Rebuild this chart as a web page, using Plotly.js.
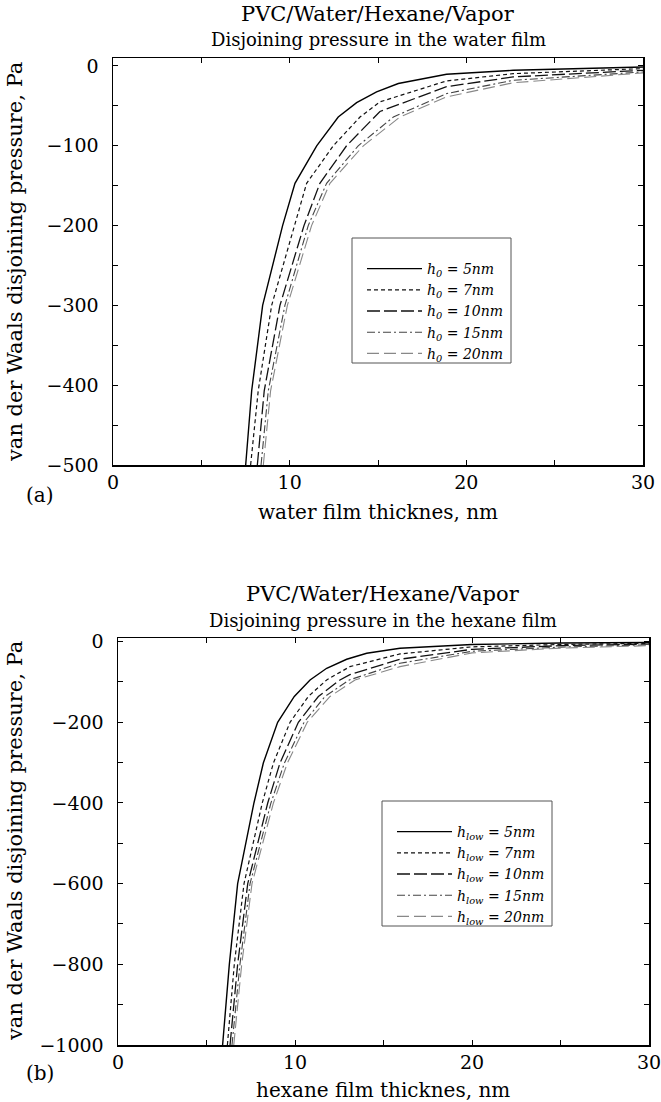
<!DOCTYPE html>
<html><head><meta charset="utf-8">
<script src="https://cdn.plot.ly/plotly-3.0.1.min.js"></script>
<style>body{margin:0;background:#fff}</style>
</head><body><div id="chart" style="width:661px;height:1102px"></div>
<script>
// ---- Panel (a): water film ----
const aLabels = ['<i>h<sub>0</sub> = 5nm</i>', '<i>h<sub>0</sub> = 7nm</i>', '<i>h<sub>0</sub> = 10nm</i>', '<i>h<sub>0</sub> = 15nm</i>', '<i>h<sub>0</sub> = 20nm</i>'];
const a5x  = [7.51, 7.85, 8.47, 9.60, 10.30, 11.53, 12.75, 13.79, 14.92, 16.15, 18.88, 22.65, 30];
const a5y  = [-500, -407, -300, -200, -147, -100, -64, -46, -32.5, -22, -10.4, -5.4, -1.2];
const a7x  = [7.79, 8.22, 8.98, 10.26, 10.96, 12.47, 13.98, 15.11, 18.88, 22.65, 30];
const a7y  = [-500, -407, -300, -200, -147, -100, -64, -45, -18.7, -9.6, -3.3];
const a10x = [8.17, 8.56, 9.45, 10.81, 11.71, 13.22, 15.11, 18.88, 22.65, 30];
const a10y = [-500, -407, -300, -200, -147, -100, -57, -26, -13.7, -5.4];
const a15x = [8.38, 8.79, 9.73, 11.05, 12.09, 13.88, 15.87, 18.88, 22.65, 30];
const a15y = [-500, -407, -300, -200, -147, -100, -64, -34.6, -17.9, -7.5];
const a20x = [8.51, 8.92, 9.87, 11.24, 12.28, 14.17, 16.24, 18.88, 22.65, 30];
const a20y = [-500, -407, -300, -200, -147, -100, -64, -38.7, -21, -8.7];

// ---- Panel (b): hexane film ----
const bLabels = ['<i>h<sub>low</sub> = 5nm</i>', '<i>h<sub>low</sub> = 7nm</i>', '<i>h<sub>low</sub> = 10nm</i>', '<i>h<sub>low</sub> = 15nm</i>', '<i>h<sub>low</sub> = 20nm</i>'];
const b5x  = [5.91, 6.29, 6.76, 7.68, 8.21, 9.02, 9.96, 10.85, 11.79, 12.92, 14.05, 15.93, 20, 25, 30];
const b5y  = [-1000, -800, -600, -400, -301, -200, -136, -95, -66, -43.7, -28.9, -16.5, -7, -3.5, -2];
const b7x  = [6.18, 6.57, 7.12, 8.15, 8.78, 9.72, 10.75, 11.79, 13.1, 15.93, 20, 25, 30];
const b7y  = [-1000, -800, -600, -400, -301, -200, -136, -95, -62, -30.5, -13, -7, -4];
const b10x = [6.33, 6.76, 7.33, 8.46, 9.15, 10.19, 11.32, 12.54, 13.1, 15.93, 20, 25, 30];
const b10y = [-1000, -800, -600, -400, -301, -200, -136, -95, -82, -43.7, -19, -10, -6];
const b15x = [6.44, 6.89, 7.46, 8.64, 9.40, 10.51, 11.69, 13.07, 15.93, 20, 25, 30];
const b15y = [-1000, -800, -600, -400, -301, -200, -136, -95, -53.6, -24, -13.5, -8];
const b20x = [6.54, 6.99, 7.57, 8.78, 9.57, 10.69, 11.98, 13.39, 15.93, 20, 25, 30];
const b20y = [-1000, -800, -600, -400, -301, -200, -136, -95, -62, -28, -16, -10];

const styles = [
  {color:'#000', dash:'solid', width:1.4},
  {color:'#111', dash:'4px,3px', width:1.2},
  {color:'#111', dash:'13px,4px', width:1.3},
  {color:'#444', dash:'8px,3px,2px,3px', width:1.1},
  {color:'#888', dash:'12px,5px', width:1.1}
];

const aX = [a5x, a7x, a10x, a15x, a20x], aY = [a5y, a7y, a10y, a15y, a20y];
const bX = [b5x, b7x, b10x, b15x, b20x], bY = [b5y, b7y, b10y, b15y, b20y];

const traces = [];
for (let i = 0; i < 5; i++) {
  traces.push({x: aX[i], y: aY[i], name: aLabels[i], mode: 'lines', xaxis: 'x', yaxis: 'y',
    line: {color: styles[i].color, dash: styles[i].dash, width: styles[i].width}, legend: 'legend'});
}
for (let i = 0; i < 5; i++) {
  traces.push({x: bX[i], y: bY[i], name: bLabels[i], mode: 'lines', xaxis: 'x2', yaxis: 'y2',
    line: {color: styles[i].color, dash: styles[i].dash, width: styles[i].width}, legend: 'legend2'});
}

const W = 661, H = 1102;
const serif = 'DejaVu Serif, Liberation Serif, serif';
const tickFont = {family: serif, size: 19, color: '#000'};
function xAxis(domain, anchor) {
  return {domain: domain, anchor: anchor, range: [0, 30], dtick: 10, tick0: 0,
    ticks: 'inside', ticklen: 5, tickcolor: '#000', tickwidth: 1,
    minor: {dtick: 5, ticks: 'inside', ticklen: 5, tickcolor: '#000'},
    showline: true, linecolor: '#000', linewidth: 1.5, mirror: 'ticks',
    showgrid: false, zeroline: false, tickfont: tickFont, ticklabelstandoff: 0,
    ticklabeloverflow: 'allow', fixedrange: true};
}
function yAxis(domain, anchor, range, dtick) {
  return {domain: domain, anchor: anchor, range: range, dtick: dtick, tick0: 0,
    ticks: 'inside', ticklen: 5, tickcolor: '#000', tickwidth: 1,
    minor: {dtick: dtick / 2, ticks: 'inside', ticklen: 5, tickcolor: '#000'},
    showline: true, linecolor: '#000', linewidth: 1.5, mirror: 'ticks',
    showgrid: false, zeroline: false, tickfont: tickFont, ticklabelstandoff: 9,
    ticklabeloverflow: 'allow', fixedrange: true};
}

function ann(text, x, y, size, extra) {
  return Object.assign({text: text, x: x / W, y: 1 - y / H, xref: 'paper', yref: 'paper', showarrow: false,
    xanchor: 'center', yanchor: 'middle', font: {family: serif, size: size, color: '#000'}}, extra || {});
}

const legendFont = {family: serif, size: 14, color: '#000'};
const layout = {
  width: W, height: H, margin: {l: 0, r: 0, t: 0, b: 0},
  paper_bgcolor: '#fff', plot_bgcolor: '#fff', showlegend: true,
  xaxis: xAxis([113 / W, 643 / W], 'y'),
  yaxis: yAxis([1 - 465 / H, 1 - 58 / H], 'x', [-500, 10], 100),
  xaxis2: xAxis([118 / W, 649 / W], 'y2'),
  yaxis2: yAxis([1 - 1045 / H, 1 - 638 / H], 'x2', [-1000, 9], 200),
  legend: {x: 362 / W, y: 1 - 253 / H, xanchor: 'left', yanchor: 'top', bgcolor: 'rgba(0,0,0,0)',
    borderwidth: 0, font: legendFont, tracegroupgap: 0, itemwidth: 55},
  legend2: {x: 392 / W, y: 1 - 816 / H, xanchor: 'left', yanchor: 'top', bgcolor: 'rgba(0,0,0,0)',
    borderwidth: 0, font: legendFont, tracegroupgap: 0, itemwidth: 55},
  shapes: [
    {type: 'rect', xref: 'paper', yref: 'paper', x0: 352 / W, x1: 511 / W, y0: 1 - 363 / H, y1: 1 - 238 / H,
      line: {color: '#555', width: 1}, fillcolor: 'rgba(0,0,0,0)'},
    {type: 'rect', xref: 'paper', yref: 'paper', x0: 382 / W, x1: 552 / W, y0: 1 - 926 / H, y1: 1 - 801 / H,
      line: {color: '#555', width: 1}, fillcolor: 'rgba(0,0,0,0)'}
  ],
  annotations: [
    ann('PVC/Water/Hexane/Vapor', 378, 14, 21),
    ann('Disjoining pressure in the water film', 378, 40, 18),
    ann('van der Waals disjoining pressure, Pa', 15, 262, 21, {textangle: -90}),
    ann('water film thicknes, nm', 378, 512, 20),
    ann('(a)', 40, 495, 20),
    ann('PVC/Water/Hexane/Vapor', 383, 594, 21),
    ann('Disjoining pressure in the hexane film', 383, 620, 18),
    ann('van der Waals disjoining pressure, Pa', 15, 841, 21, {textangle: -90}),
    ann('hexane film thicknes, nm', 383, 1090, 20),
    ann('(b)', 40, 1073, 20)
  ]
};

Plotly.newPlot('chart', traces, layout, {staticPlot: true, displayModeBar: false});
</script>
</body></html>
